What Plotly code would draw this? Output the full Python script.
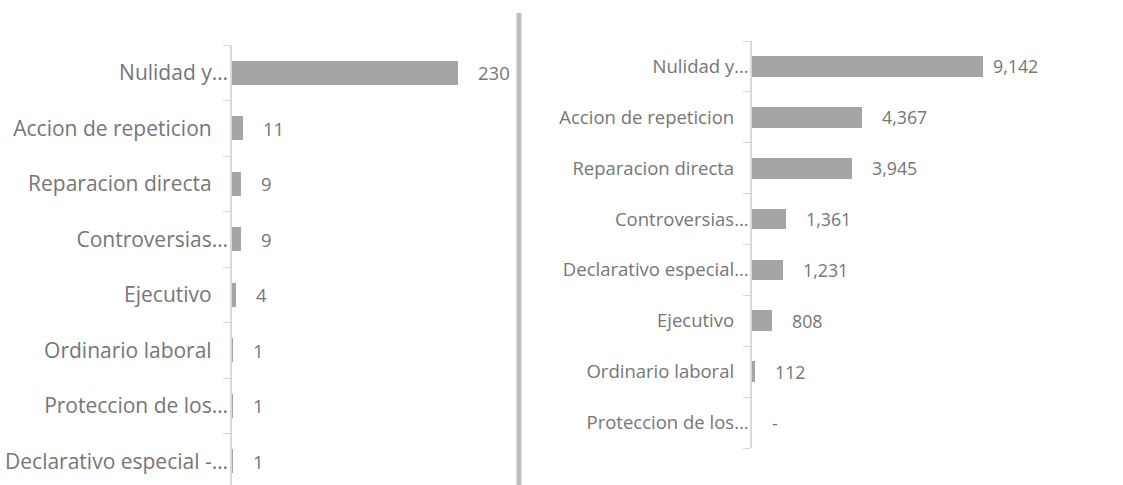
import plotly.graph_objects as go

W, H = 1123, 485

# Left panel: number of processes by type
left_categories = [
    "Nulidad y…",
    "Accion de repeticion",
    "Reparacion directa",
    "Controversias…",
    "Ejecutivo",
    "Ordinario laboral",
    "Proteccion de los…",
    "Declarativo especial -…",
]
left_values = [230, 11, 9, 9, 4, 1, 1, 1]

# Right panel: amounts by type
right_categories = [
    "Nulidad y…",
    "Accion de repeticion",
    "Reparacion directa",
    "Controversias…",
    "Declarativo especial…",
    "Ejecutivo",
    "Ordinario laboral",
    "Proteccion de los…",
]
right_values = [9142, 4367, 3945, 1361, 1231, 808, 112, 0]

BAR = "#a5a5a5"
TEXT = "#767676"
AXIS = "#d9d9d9"
FONT = "Open Sans"


def tick_text(label, pad):
    # labels that were not shortened sit a little further from the axis
    return label if label.endswith("…") else label + "&nbsp;" * pad


def fmt(v):
    return f"{v:,}" if v else "-"


def px_x(p):
    return p / W


def px_y(p):
    return 1 - p / H


fig = go.Figure()

fig.add_trace(go.Bar(
    x=left_values, y=left_categories, orientation="h",
    marker=dict(color=BAR, line=dict(width=0)), width=0.43,
    xaxis="x", yaxis="y", hoverinfo="skip",
))
fig.add_trace(go.Bar(
    x=right_values, y=right_categories, orientation="h",
    marker=dict(color=BAR, line=dict(width=0)), width=0.41,
    xaxis="x2", yaxis="y2", hoverinfo="skip",
))

annotations = []
for cat, v in zip(left_categories, left_values):
    annotations.append(dict(
        x=v, y=cat, xref="x", yref="y", text=fmt(v), showarrow=False,
        xanchor="left", yanchor="middle", xshift=18,
        font=dict(family=FONT, size=18.5, color=TEXT),
    ))
right_max = max(right_values)
for cat, v in zip(right_categories, right_values):
    # the longest bar's label is tucked in so it stays inside the chart area
    shift = 8 if v == right_max else 18
    annotations.append(dict(
        x=v, y=cat, xref="x2", yref="y2", text=fmt(v), showarrow=False,
        xanchor="left", yanchor="middle", xshift=shift,
        font=dict(family=FONT, size=17.8, color=TEXT),
    ))

# left panel: zero at 232px, 0.983 px per unit
lx0, lx1 = 232, 520
left_range = (lx1 - lx0) / 0.983
# right panel: zero at 752px, 0.02527 px per unit
rx0, rx1 = 752, W
right_range = (rx1 - rx0) / 0.02527

# left categories: bands of 55.5px starting at y=45, running off the bottom
l_top, l_bot = 45, H
l_bands = (l_bot - l_top) / 55.5
# right categories: 8 bands between y=41 and y=448
r_top, r_bot = 41, 448

axis_common = dict(
    showgrid=False, zeroline=False, showline=True, linecolor=AXIS, linewidth=1.5,
    ticks="outside", ticklen=7, tickcolor=AXIS, tickwidth=1,
    tickson="boundaries", type="category",
)

fig.update_layout(
    width=W, height=H, margin=dict(l=0, r=0, t=0, b=0),
    paper_bgcolor="white", plot_bgcolor="white",
    showlegend=False, bargap=0,
    xaxis=dict(domain=[px_x(lx0), px_x(lx1)], range=[0, left_range],
               visible=False, fixedrange=True),
    yaxis=dict(
        domain=[px_y(l_bot), px_y(l_top)], anchor="x",
        range=[-0.5 + l_bands, -0.5],
        categoryorder="array", categoryarray=left_categories,
        tickvals=left_categories,
        ticktext=[tick_text(c, 3) for c in left_categories],
        tickfont=dict(family=FONT, size=21, color=TEXT),
        ticklabelstandoff=-2,
        **axis_common,
    ),
    xaxis2=dict(domain=[px_x(rx0), px_x(rx1)], range=[0, right_range],
                visible=False, anchor="y2", fixedrange=True),
    yaxis2=dict(
        domain=[px_y(r_bot), px_y(r_top)], anchor="x2",
        range=[7.5, -0.5],
        categoryorder="array", categoryarray=right_categories,
        tickvals=right_categories,
        ticktext=[tick_text(c, 3) for c in right_categories],
        tickfont=dict(family=FONT, size=18.5, color=TEXT),
        ticklabelstandoff=-2,
        **axis_common,
    ),
    annotations=annotations,
    shapes=[dict(
        type="line", xref="paper", yref="paper",
        x0=px_x(519), x1=px_x(519), y0=0, y1=px_y(13),
        line=dict(color="#bfbfbf", width=5),
    )],
)

fig.write_html("out.html")
